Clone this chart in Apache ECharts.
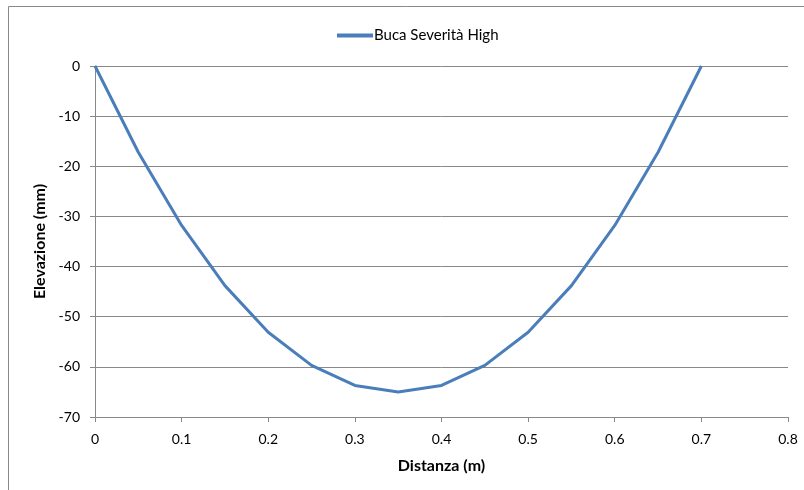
<!DOCTYPE html>
<html>
<head>
<meta charset="utf-8">
<script src="https://cdn.jsdelivr.net/npm/echarts@6/dist/echarts.min.js"></script>
<style>
  html, body { margin: 0; padding: 0; background: #fff; }
  #chart { width: 804px; height: 490px; }
</style>
</head>
<body>
<div id="chart"></div>
<script>
// Pothole cross-section profile
const seriesName = 'Buca Severità High';
const distance = [0, 0.05, 0.1, 0.15, 0.2, 0.25, 0.3, 0.35, 0.4, 0.45, 0.5, 0.55, 0.6, 0.65, 0.7];
const elevation = [0, -17.2, -31.8, -43.8, -53.1, -59.7, -63.7, -65, -63.7, -59.7, -53.1, -43.8, -31.8, -17.2, 0];
const xTitle = 'Distanza (m)';
const yTitle = 'Elevazione (mm)';

const FONT = 'Lato, "Open Sans", sans-serif';
const chart = echarts.init(document.getElementById('chart'), null, { renderer: 'canvas' });

chart.setOption({
  animation: false,
  backgroundColor: '#fff',
  textStyle: { fontFamily: FONT },
  graphic: [{
    type: 'polyline',
    shape: { points: [[8.5, 500], [8.5, 6.5], [810, 6.5]] },
    style: { stroke: '#898989', lineWidth: 1, fill: null },
    silent: true
  }],
  legend: {
    top: 23,
    left: 332,
    itemWidth: 36,
    itemHeight: 16,
    itemGap: 2,
    textStyle: { fontFamily: FONT, fontSize: 15, color: '#000', padding: [0, 0, 0, -4] },
    data: [{ name: seriesName, icon: 'path://M0,0 L36,0 L36,4 L0,4 Z' }]
  },
  grid: { left: 95, right: 16, top: 66, bottom: 73, containLabel: false },
  xAxis: {
    type: 'value',
    min: 0, max: 0.8, interval: 0.1,
    name: xTitle,
    nameLocation: 'middle',
    nameGap: 41,
    nameTextStyle: { fontFamily: FONT, fontSize: 16, fontWeight: 'bold', color: '#000' },
    axisLine: { show: true, onZero: false, lineStyle: { color: '#888', width: 1 } },
    axisTick: { show: true, length: 5, inside: false, lineStyle: { color: '#888' } },
    axisLabel: { fontFamily: FONT, fontSize: 14, color: '#000', margin: 15,
      formatter: v => (Math.round(v * 10) / 10).toString() },
    splitLine: { show: false }
  },
  yAxis: {
    type: 'value',
    min: -70, max: 0, interval: 10,
    name: yTitle,
    nameLocation: 'middle',
    nameGap: 45,
    nameTextStyle: { fontFamily: FONT, fontSize: 16, fontWeight: 'bold', color: '#000' },
    axisLine: { show: true, lineStyle: { color: '#888', width: 1 } },
    axisTick: { show: true, length: 5, inside: false, lineStyle: { color: '#888' } },
    axisLabel: { fontFamily: FONT, fontSize: 14, color: '#000', margin: 15 },
    splitLine: { show: true, lineStyle: { color: '#888', width: 1 } }
  },
  series: [{
    name: seriesName,
    type: 'line',
    data: distance.map((d, i) => [d, elevation[i]]),
    showSymbol: false,
    symbol: 'none',
    lineStyle: { color: '#4a7ebb', width: 3, join: 'round' },
    itemStyle: { color: '#4a7ebb' },
    z: 3
  }]
});
</script>
</body>
</html>
